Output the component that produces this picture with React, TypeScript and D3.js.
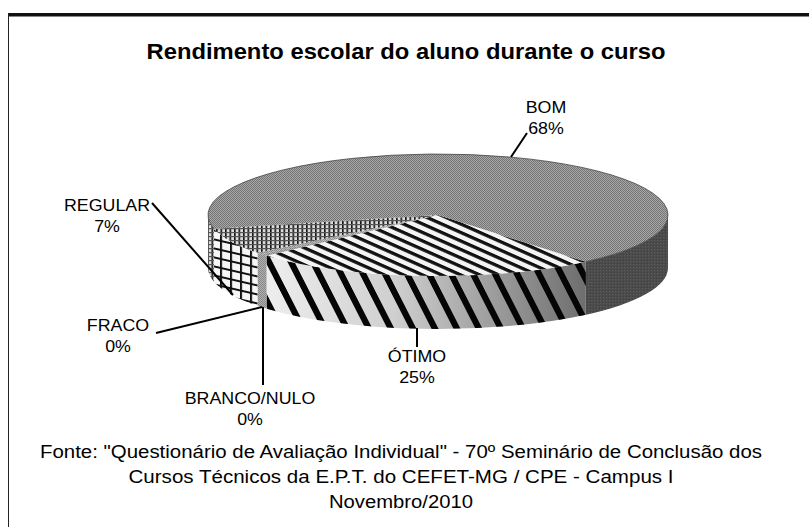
import React from 'react';
import * as d3 from 'd3';

const categories = ['ÓTIMO', 'BRANCO/NULO', 'FRACO', 'REGULAR', 'BOM'];
// shares, the two "0%" slices are thin slivers
const shares = [24.5, 0.49, 0.49, 7.0, 67.52];

const titleText = 'Rendimento escolar do aluno durante o curso';
const sourceLines = [
  'Fonte: "Questionário de Avaliação Individual" - 70º Seminário de Conclusão dos',
  'Cursos Técnicos da E.P.T. do CEFET-MG / CPE - Campus I',
  'Novembro/2010',
];
const sourceWidths = [722, 545, 144];

const width = 809;
const height = 527;
const cx = 438;
const cy = 215;
const rx = 230;
const ry = 61;
const depth = 53;
const firstSliceAt = 50; // degrees clockwise from 3 o'clock

const topFill: Record<string, string> = {
  'ÓTIMO': 'url(#topStripes)',
  'BRANCO/NULO': 'url(#sliver)',
  'FRACO': 'url(#sliver)',
  'REGULAR': 'url(#fineGrid)',
  'BOM': 'url(#checker)',
};

// label centre, and the leader line running to the pie
const labelLayout: Record<string, { x: number; y: number; line: number[] }> = {
  'BOM': { x: 546, y: 113, line: [527, 133, 511, 157] },
  'REGULAR': { x: 107, y: 211, line: [152, 203, 233, 295] },
  'FRACO': { x: 118, y: 331, line: [156, 333, 262, 307] },
  'BRANCO/NULO': { x: 250, y: 404, line: [263, 385, 263, 307] },
  'ÓTIMO': { x: 417, y: 362, line: [417, 347, 417, 328] },
};

const rad = (deg: number) => (deg * Math.PI) / 180;
const px = (deg: number) => cx + rx * Math.cos(rad(deg));
const py = (deg: number) => cy + ry * Math.sin(rad(deg));

function sidePath(a: number, b: number) {
  const top = `A${rx},${ry} 0 0 1 ${px(b)},${py(b)}`;
  const bottom = `A${rx},${ry} 0 0 0 ${px(a)},${py(a) + depth}`;
  return `M${px(a)},${py(a)}${top}L${px(b)},${py(b) + depth}${bottom}Z`;
}

// sector of the flattened top face, in screen units so the patterns don't get squashed
function topPath(a: number, b: number) {
  const large = b - a > 180 ? 1 : 0;
  return `M${cx},${cy}L${px(a)},${py(a)}A${rx},${ry} 0 ${large} 1 ${px(b)},${py(b)}Z`;
}

export default function App() {
  const pie = d3
    .pie<number>()
    .sort(null)
    .startAngle(rad(firstSliceAt))
    .endAngle(rad(firstSliceAt + 360));
  const arcs = pie(shares);

  const slices = arcs.map((a, i) => ({
    name: categories[i],
    value: shares[i],
    from: (a.startAngle * 180) / Math.PI,
    to: (a.endAngle * 180) / Math.PI,
  }));
  const bom = slices[4];
  const otimo = slices[0];
  const sliverFrom = slices[1].from;
  const sliverTo = slices[2].to;
  const regular = slices[3];

  return (
    <svg
      width={width}
      height={height}
      style={{ position: 'absolute', left: 0, top: 0, background: '#fff' }}
      fontFamily="'Liberation Sans', Arial, sans-serif"
    >
      <defs>
        <pattern id="checker" width={2} height={2} patternUnits="userSpaceOnUse">
          <rect width={2} height={2} fill="#a8a8a8" />
          <rect width={1} height={1} fill="#747474" />
          <rect x={1} y={1} width={1} height={1} fill="#747474" />
        </pattern>
        <pattern id="sliver" width={2} height={2} patternUnits="userSpaceOnUse">
          <rect width={2} height={2} fill="#b0b0b0" />
          <rect width={1} height={1} fill="#888" />
          <rect x={1} y={1} width={1} height={1} fill="#888" />
        </pattern>
        <pattern id="darkDots" width={3} height={3} patternUnits="userSpaceOnUse">
          <rect width={3} height={3} fill="#4c4c4c" />
          <rect width={1} height={1} fill="#5c5c5c" />
          <rect x={2} y={2} width={1} height={1} fill="#3e3e3e" />
        </pattern>
        <pattern id="topStripes" width={24} height={8.5} patternUnits="userSpaceOnUse" patternTransform="skewY(24)">
          <rect width={24} height={8.5} fill="#f4f4f4" />
          <rect width={24} height={3.6} fill="#111" />
        </pattern>
        <pattern id="sideStripes" width={22} height={22} patternUnits="userSpaceOnUse" patternTransform="skewX(27)">
          <rect width={7} height={22} fill="#050505" />
        </pattern>
        <pattern id="fineGrid" width={4.5} height={4} patternUnits="userSpaceOnUse">
          <rect width={4.5} height={4} fill="#dcdcdc" />
          <rect width={1.6} height={4} fill="#111" />
          <rect width={4.5} height={1.2} fill="#555" />
        </pattern>
        <pattern id="sideGrid" width={10} height={9} patternUnits="userSpaceOnUse" patternTransform="skewY(13)">
          <rect width={10} height={9} fill="#f6f6f6" />
          <rect width={2} height={9} fill="#111" />
          <rect width={10} height={2} fill="#111" />
        </pattern>
        <linearGradient id="otimoShade" gradientUnits="userSpaceOnUse" x1={px(otimo.to)} x2={px(otimo.from)} y1={0} y2={0}>
          <stop offset="0%" stopColor="#eeeeee" />
          <stop offset="40%" stopColor="#cfcfcf" />
          <stop offset="100%" stopColor="#6e6e6e" />
        </linearGradient>
      </defs>

      {/* frame */}
      <rect x={8} y={13} width={width - 8} height={3.5} fill="#111" />
      <rect x={8} y={13} width={1} height={height - 13} fill="#222" />

      <text x={406} y={59} textAnchor="middle" fontSize={22} fontWeight="bold" textLength={519} lengthAdjust="spacingAndGlyphs">
        {titleText}
      </text>

      {/* side wall */}
      <path d={sidePath(0, bom.to - 360)} fill="url(#darkDots)" />
      <path d={sidePath(otimo.from, otimo.to)} fill="url(#otimoShade)" />
      <path d={sidePath(otimo.from, otimo.to)} fill="url(#sideStripes)" />
      <path d={sidePath(sliverFrom, sliverTo)} fill="url(#sliver)" />
      <path d={sidePath(regular.from, regular.to)} fill="url(#sideGrid)" />
      <path d={sidePath(bom.from, 180)} fill="url(#fineGrid)" />

      {/* top face */}
      {slices.map((s) => (
        <path key={s.name} d={topPath(s.from, s.to)} fill={topFill[s.name]} />
      ))}
      <path
        d={`M${px(bom.from)},${py(bom.from)}A${rx},${ry} 0 1 1 ${px(bom.to)},${py(bom.to)}`}
        fill="none"
        stroke="#444"
        strokeWidth={0.8}
      />

      {/* leaders and labels */}
      {slices.map((s) => {
        const l = labelLayout[s.name];
        return (
          <g key={s.name}>
            <line x1={l.line[0]} y1={l.line[1]} x2={l.line[2]} y2={l.line[3]} stroke="#000" strokeWidth={2} />
            <text transform={`translate(${l.x},${l.y}) scale(1.08,1)`} textAnchor="middle" fontSize={16.5}>
              <tspan x={0}>{s.name}</tspan>
              <tspan x={0} dy={21.5}>{`${Math.round(s.value)}%`}</tspan>
            </text>
          </g>
        );
      })}

      {sourceLines.map((t, i) => (
        <text
          key={t}
          x={401}
          y={458 + i * 25}
          textAnchor="middle"
          fontSize={17.5}
          textLength={sourceWidths[i]}
          lengthAdjust="spacingAndGlyphs"
        >
          {t}
        </text>
      ))}
    </svg>
  );
}
